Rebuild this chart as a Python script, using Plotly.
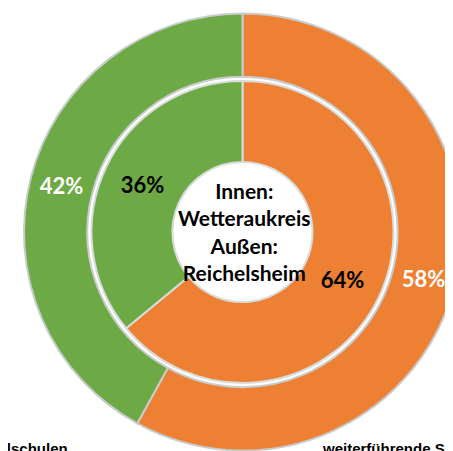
import plotly.graph_objects as go

categories = ["weiterführende Schulen", "Grundschulen"]
outer_values = [58, 42]   # Außen: Reichelsheim
inner_values = [64, 36]   # Innen: Wetteraukreis
colors = ["#EE8034", "#6DAA45"]
center_text = "Innen:<br>Wetteraukreis<br>Außen:<br>Reichelsheim"

W, H = 453, 451
fig = go.Figure()

fig.add_trace(go.Pie(
    labels=categories, values=outer_values, sort=False, direction="clockwise", rotation=0,
    hole=0.71, domain=dict(x=[0.0353, 1.0], y=[0.0188, 0.9878]),
    marker=dict(colors=colors, line=dict(color="#C8CCCC", width=2)),
    textinfo="percent", textposition="inside", insidetextorientation="horizontal",
    textfont=dict(family="Lato", size=22, color="white", weight="bold"),
    showlegend=False, hoverinfo="label+percent",
))

fig.add_trace(go.Pie(
    labels=categories, values=inner_values, sort=False, direction="clockwise", rotation=0,
    hole=0.464, domain=dict(x=[0.1843, 0.8510], y=[0.1685, 0.8381]),
    marker=dict(colors=colors, line=dict(color="#D8DCDC", width=2)),
    textinfo="percent", textposition="inside", insidetextorientation="horizontal",
    textfont=dict(family="Lato", size=22, color="black", weight="bold"),
    showlegend=False, hoverinfo="label+percent",
))

fig.add_annotation(text=center_text, x=0.522, y=0.505, xref="paper", yref="paper",
                   showarrow=False, font=dict(family="Lato", size=21, color="black", weight="bold"),
                   align="center")
fig.add_annotation(text=categories[1], x=62 / W, y=0.0, xref="paper", yref="paper",
                   xanchor="right", yanchor="bottom", showarrow=False,
                   font=dict(family="Liberation Sans", size=15, color="black", weight="bold"))
fig.add_annotation(text=categories[0], x=312 / W, y=0.0, xref="paper", yref="paper",
                   xanchor="left", yanchor="bottom", showarrow=False,
                   font=dict(family="Liberation Sans", size=15, color="black", weight="bold"))

fig.update_layout(width=W, height=H, margin=dict(l=0, r=0, t=0, b=0),
                  paper_bgcolor="white", plot_bgcolor="white")
fig.write_html("out.html")
